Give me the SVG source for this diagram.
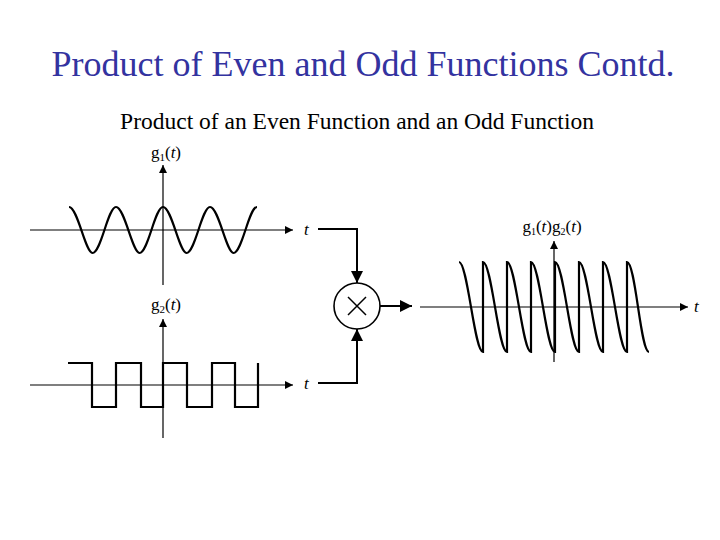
<svg xmlns="http://www.w3.org/2000/svg" width="720" height="540" viewBox="0 0 720 540">
<defs>
<marker id="ah" viewBox="0 0 10 10" refX="10" refY="5" markerWidth="10" markerHeight="8" markerUnits="userSpaceOnUse" orient="auto"><path d="M0,0L10,5L0,10z" fill="#000"/></marker>
<marker id="ab" viewBox="0 0 10 10" refX="10" refY="5" markerWidth="14" markerHeight="12" markerUnits="userSpaceOnUse" orient="auto"><path d="M0,0L10,5L0,10z" fill="#000"/></marker>
<style>
.ax{stroke:#000;stroke-width:1.2;fill:none}
.sig{stroke:#000;stroke-width:2.2;fill:none}
.lb{font-family:"Liberation Serif",serif;font-size:17px;fill:#000}
.it{font-style:italic}
</style>
</defs>
<rect width="720" height="540" fill="#fff"/>
<text x="363" y="76" text-anchor="middle" font-family="Liberation Serif,serif" font-size="36" fill="#3333a0">Product of Even and Odd Functions Contd.</text>
<text x="357" y="129" text-anchor="middle" font-family="Liberation Serif,serif" font-size="23.5" fill="#000">Product of an Even Function and an Odd Function</text>

<g id="g1plot">
<line class="ax" x1="30" y1="230" x2="293" y2="230" marker-end="url(#ah)"/>
<line class="ax" x1="163" y1="285" x2="163" y2="165" marker-end="url(#ah)"/>
<path class="sig" d="M69,207 C77.6,207 85.4,253 92.5,253 C101.1,253 107.9,207 116,207 C124.6,207 132.4,253 139.5,253 C148.1,253 154.9,207 163,207 C171.6,207 179.4,253 186.5,253 C195.1,253 201.9,207 210,207 C218.6,207 226.4,253 233.5,253 C242.1,253 248.9,207 257,207"/>
<text class="lb" x="166" y="158" text-anchor="middle">g<tspan font-size="11" dy="3">1</tspan><tspan dy="-3">(</tspan><tspan class="it">t</tspan>)</text>
<text class="lb it" x="304" y="235">t</text>
</g>

<g id="g2plot">
<line class="ax" x1="30" y1="385" x2="293" y2="385" marker-end="url(#ah)"/>
<line class="ax" x1="163" y1="438" x2="163" y2="319" marker-end="url(#ah)"/>
<path class="sig" d="M68,363 H92 V407 H116 V363 H141 V407 H163 V363 H187 V407 H212 V363 H235 V407 H258 V363"/>
<text class="lb" x="166" y="310" text-anchor="middle">g<tspan font-size="11" dy="3">2</tspan><tspan dy="-3">(</tspan><tspan class="it">t</tspan>)</text>
<text class="lb it" x="304" y="389">t</text>
</g>

<g id="multiplier">
<circle cx="357" cy="306" r="23" fill="#fff" stroke="#000" stroke-width="1.6"/>
<path d="M348,297 L366,315 M366,297 L348,315" stroke="#000" stroke-width="1.5"/>
</g>

<g id="connectors">
<polyline points="318,229 357,229 357,283" fill="none" stroke="#000" stroke-width="2" marker-end="url(#ab)"/>
<polyline points="318,383 357,383 357,329" fill="none" stroke="#000" stroke-width="2" marker-end="url(#ab)"/>
<line x1="380" y1="306" x2="412" y2="306" stroke="#000" stroke-width="2" marker-end="url(#ab)"/>
</g>

<g id="productplot">
<line class="ax" x1="420" y1="307" x2="688" y2="307" marker-end="url(#ah)"/>
<line class="ax" x1="554" y1="362" x2="554" y2="241" marker-end="url(#ah)"/>
<path class="sig" d="M459,262 C467.6,262 474.4,352 483,352 V262 C491.6,262 498.4,352 507,352 V262 C515.6,262 522.4,352 531,352 V262 C539.6,262 546.4,352 555,352 V262 C563.6,262 570.4,352 579,352 V262 C587.6,262 594.4,352 603,352 V262 C611.6,262 618.4,352 627,352 V262 C635.6,262 640.4,352 649,352"/>
<text class="lb" x="552" y="232" text-anchor="middle" font-size="15">g<tspan font-size="10" dy="3">1</tspan><tspan dy="-3">(</tspan><tspan class="it">t</tspan>)g<tspan font-size="10" dy="3">2</tspan><tspan dy="-3">(</tspan><tspan class="it">t</tspan>)</text>
<text class="lb it" x="694" y="312">t</text>
</g>
</svg>
